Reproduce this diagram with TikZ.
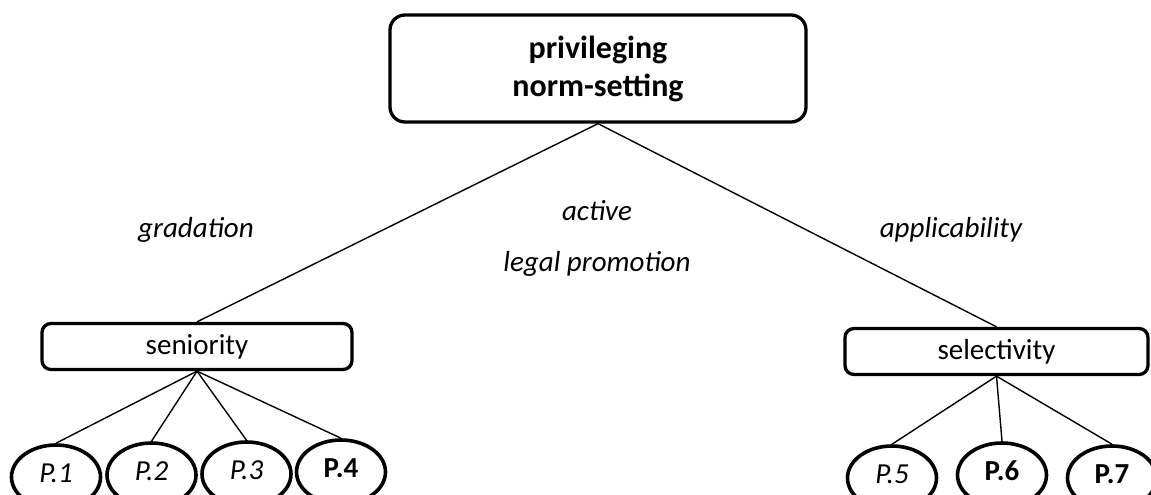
\documentclass[tikz,border=0pt]{standalone}
\usepackage{fontspec}
\setmainfont{Carlito}
\usetikzlibrary{shapes.geometric}
\tikzset{
  topbox/.style={draw, line width=3.3pt, rounded corners=15pt, minimum width=416pt, minimum height=107pt, inner sep=0pt, align=center, font=\fontsize{32}{38}\selectfont\bfseries},
  midbox/.style={draw, line width=3.3pt, rounded corners=9pt, minimum height=46pt, inner sep=0pt, font=\fontsize{29}{35}\selectfont},
  leaf/.style={draw, ellipse, line width=3.6pt, minimum width=89pt, minimum height=64pt, inner sep=0pt, text height=18pt, text depth=8pt, font=\fontsize{29}{35}\selectfont},
  lbl/.style={font=\fontsize{29}{35}\selectfont\itshape, anchor=base, inner sep=0pt},
  conn/.style={line width=1.4pt}
}
\begin{document}
\begin{tikzpicture}[x=1pt,y=-1pt]
  \useasboundingbox (0,0) rectangle (1151,495);
  \clip (0,0) rectangle (1151,495);
  \fill[white] (0,0) rectangle (1151,495);

  \node[topbox] (top) at (598,68.5) {privileging\\norm-setting};
  \node[midbox, minimum width=310pt] (sen) at (197,346.5) {seniority};
  \node[midbox, minimum width=303pt] (sel) at (996.5,351.5) {selectivity};

  \node[leaf] (p1) at (56,477) {\itshape P.1};
  \node[leaf] (p2) at (151.5,475) {\itshape P.2};
  \node[leaf] (p3) at (246.5,474) {\itshape P.3};
  \node[leaf] (p4) at (341,472) {\bfseries P.4};
  \node[leaf] (p5) at (892,478) {\itshape P.5};
  \node[leaf] (p6) at (1002,475) {\bfseries P.6};
  \node[leaf] (p7) at (1112,478) {\bfseries P.7};

  \node[lbl] (grad) at (196,237) {gradation};
  \node[lbl] (act) at (597,220) {active};
  \node[lbl] (lp) at (597,271) {legal promotion};
  \node[lbl] (app) at (951,237) {applicability};

  \draw[conn] (top.south) -- (sen.north);
  \draw[conn] (top.south) -- (sel.north);
  \foreach \p in {p1,p2,p3,p4} \draw[conn] (sen.south) -- (\p.north);
  \foreach \p in {p5,p6,p7} \draw[conn] (sel.south) -- (\p.north);
\end{tikzpicture}
\end{document}
